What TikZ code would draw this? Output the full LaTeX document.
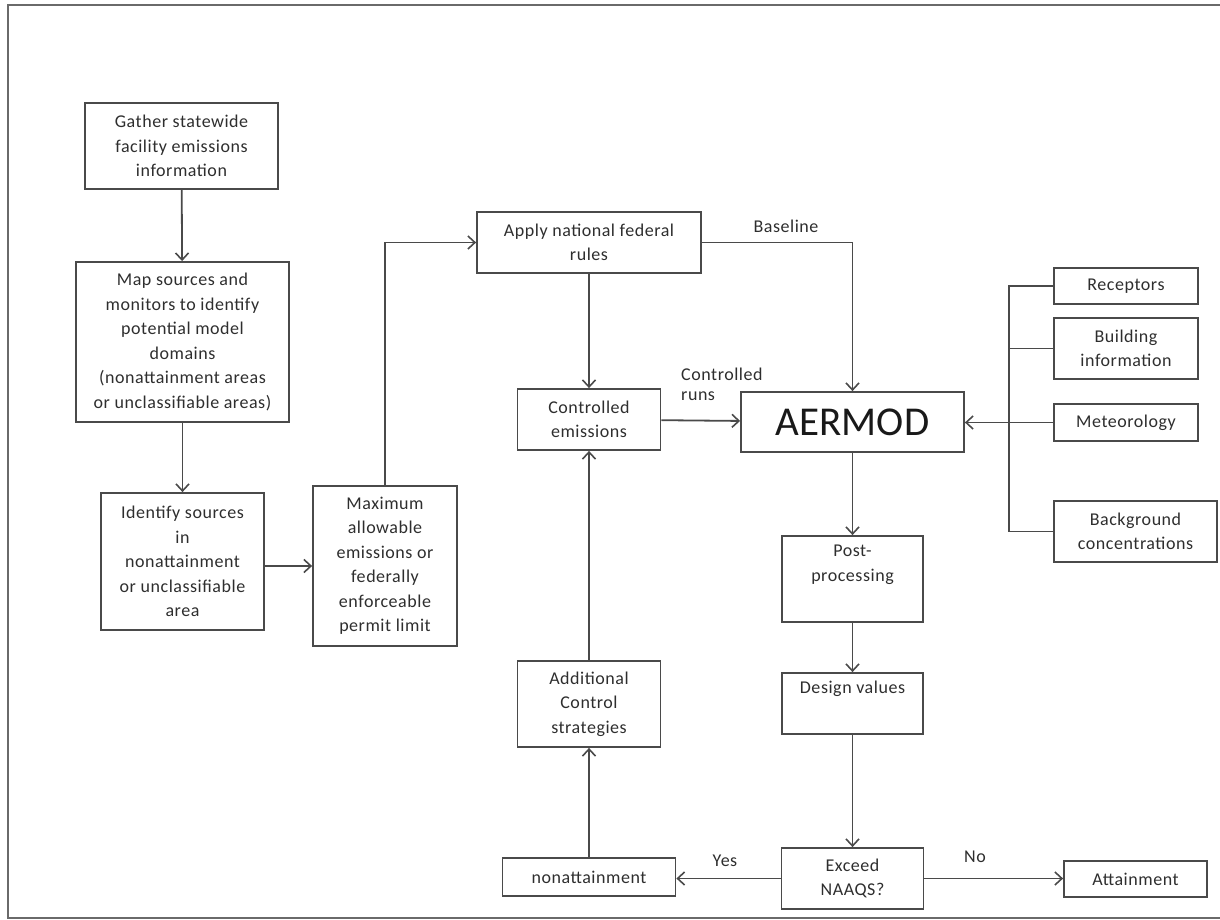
\documentclass[tikz,border=0pt]{standalone}
\usepackage{fontspec}
\setmainfont{Carlito}[LetterSpace=3]
\newfontfamily\bigfont{Carlito}
\usetikzlibrary{arrows.meta}
\definecolor{linec}{HTML}{4A4A4A}
\definecolor{textc}{HTML}{2E2E2E}
\definecolor{framec}{HTML}{6A6A6A}
\tikzset{
  box/.style={draw=linec, line width=1.8pt, inner sep=0pt, align=center,
    text=textc, font=\fontsize{18}{24.5}\selectfont},
  conn/.style={draw=linec, line width=1.8pt},
  arr/.style={conn, -{Straight Barb[length=7pt,width=13pt,line width=1.6pt]}},
  lbl/.style={text=textc, font=\fontsize{18}{20}\selectfont, inner sep=0pt}
}
\begin{document}
\begin{tikzpicture}[x=1pt,y=-1pt]
\useasboundingbox (0,0) rectangle (1220,920);
% frame
\draw[framec, line width=2.4pt] (1222,5) -- (8,5) -- (8,918) -- (1222,918);

\node[box, minimum width=193pt, minimum height=86pt] (gather) at (181.5,146)
  {Gather statewide\\facility emissions\\information};
\node[box, minimum width=213pt, minimum height=160pt] (map) at (182.5,342)
  {Map sources and\\monitors to identify\\potential model\\domains\\(nonattainment areas\\or unclassifiable areas)};
\node[box, minimum width=163pt, minimum height=137pt] (ident) at (182.5,561.5)
  {Identify sources\\in\\nonattainment\\or unclassifiable\\area};
\node[box, minimum width=144pt, minimum height=160pt] (maxi) at (385,566)
  {Maximum\\allowable\\emissions or\\federally\\enforceable\\permit limit};
\node[box, minimum width=224pt, minimum height=61pt] (apply) at (589,242.5)
  {Apply national federal\\rules};
\node[box, minimum width=143pt, minimum height=61pt] (ctrl) at (589,419.5)
  {Controlled\\emissions};
\node[box, minimum width=223pt, minimum height=60pt, font=\bigfont\fontsize{41}{44}\selectfont, text=black!90] (aermod) at (852.5,422)
  {AERMOD};
\node[box, minimum width=144pt, minimum height=36pt] (rec) at (1126,286) {Receptors};
\node[box, minimum width=144pt, minimum height=61pt] (bld) at (1126,348.5) {Building\\information};
\node[box, minimum width=144pt, minimum height=37pt] (met) at (1126,422.5) {Meteorology};
\node[box, minimum width=163pt, minimum height=61pt] (bg) at (1135.5,531.5) {Background\\concentrations};
\node[box, minimum width=141pt, minimum height=86pt] (post) at (852.5,579)
  {Post-\\processing\\\strut};
\node[box, minimum width=141pt, minimum height=61pt] (design) at (852.5,703.5)
  {Design values\\\strut};
\node[box, minimum width=142pt, minimum height=61pt] (exceed) at (852.5,878.5)
  {Exceed\\NAAQS?};
\node[box, minimum width=173pt, minimum height=38pt] (nonatt) at (589,877) {nonattainment};
\node[box, minimum width=143pt, minimum height=36pt] (attain) at (1135.5,879) {Attainment};
\node[box, minimum width=143pt, minimum height=86pt] (addl) at (589,704)
  {Additional\\Control\\strategies};

% connectors
\draw[arr] (gather) -- (map);
\draw[arr] (map) -- (ident);
\draw[arr] (ident.east |- maxi.west) -- (maxi.west);
\draw[arr] (maxi.north) |- (apply.west);
\draw[arr] (apply.east) -| (aermod.north);
\node[lbl] (baseline) at (786,226) {Baseline};
\draw[arr] (apply) -- (ctrl);
\draw[arr] (ctrl) -- (aermod);
\node[lbl, anchor=north west, align=left] (crlbl) at (681,368) {Controlled\\runs};
\coordinate (bus) at (1009,286);
\draw[conn] (rec.west) -- (bus) -- (bus |- bg.west) -- (bg.west);
\draw[conn] (bld.west) -- (bus |- bld.west);
\draw[arr] (met.west) -- (aermod.east |- met.west);
\draw[arr] (aermod) -- (post);
\draw[arr] (post) -- (design);
\draw[arr] (design) -- (exceed);
\draw[arr] (exceed.west) -- (nonatt.east |- exceed.west);
\node[lbl] (yes) at (725,861) {Yes};
\draw[arr] (exceed.east) -- (attain.west |- exceed.east);
\node[lbl] (no) at (975,857) {No};
\draw[arr] (nonatt) -- (addl);
\draw[arr] (addl) -- (ctrl);
\end{tikzpicture}
\end{document}
